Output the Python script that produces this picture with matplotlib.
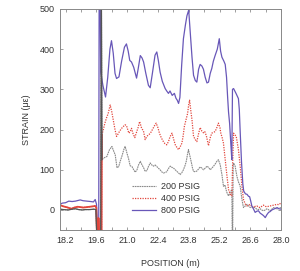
import matplotlib
matplotlib.use("Agg")
import matplotlib.pyplot as plt
import numpy as np
from matplotlib.ticker import MultipleLocator

plt.rcParams['font.family'] = ['Liberation Sans', 'DejaVu Sans']

# 200 PSIG
x200 = [17.95, 18.1, 18.32, 18.5, 18.65, 18.8, 18.96, 19.1, 19.3, 19.5, 19.58, 19.62, 19.80, 19.83, 19.86,
        19.93, 20.0, 20.08, 20.2, 20.31, 20.4, 20.46, 20.54, 20.62, 20.68, 20.76, 20.85, 20.91, 21.0, 21.06,
        21.14, 21.22, 21.3, 21.37, 21.45, 21.52, 21.6, 21.67, 21.75, 21.82, 21.9, 21.97, 22.05, 22.12, 22.2,
        22.27, 22.35, 22.42, 22.5, 22.57, 22.65, 22.72, 22.8, 22.88, 22.96, 23.04, 23.11, 23.19, 23.26, 23.34,
        23.41, 23.49, 23.56, 23.63, 23.69, 23.75, 23.79, 23.85, 23.91, 23.97, 24.02, 24.1, 24.17, 24.25, 24.32,
        24.4, 24.47, 24.55, 24.63, 24.7, 24.78, 24.85, 24.93, 25.0, 25.08, 25.15, 25.23, 25.31, 25.38, 25.45,
        25.5, 25.54, 25.61, 25.7, 25.76, 25.78, 25.8, 25.82, 25.84, 25.91, 25.99, 26.06, 26.14, 26.22, 26.29,
        26.37, 26.45, 26.52, 26.6, 26.68, 26.75, 26.82, 26.9, 26.97, 27.05, 27.12, 27.2, 27.28, 27.35, 27.42,
        27.5, 27.58, 27.66, 27.74, 27.82, 27.9, 28.0]
y200 = [2, 1, 0, 2, 3, 1, 0, 1, 1, 2, 1, -60, -60, 560, 125,
        129, 131, 133, 150, 158, 145, 137, 105, 108, 120, 133, 150, 158, 140, 129,
        110, 108, 100, 94, 100, 112, 121, 113, 105, 96, 98, 108, 117, 112, 109,
        112, 108, 104, 100, 95, 92, 93, 95, 103, 109, 106, 104, 100, 96, 92,
        88, 93, 100, 110, 121, 140, 150, 135, 121, 105, 96, 95, 97, 102, 107,
        104, 100, 104, 109, 106, 100, 104, 109, 114, 121, 125, 113, 88, 59, 62,
        50, 43, 35, 45, 51, -60, -60, 110, 117, 109, 84, 70, 59, 26, 6,
        10, 14, 10, 6, 7, 8, 5, 2, 1, 3, 0, -2, 0, 3, 1,
        -2, 2, 6, 4, 2, 4, 6]

# 400 PSIG
x400 = [17.95, 18.1, 18.25, 18.47, 18.6, 18.75, 18.9, 19.0, 19.15, 19.3, 19.45, 19.55, 19.6, 19.63, 19.69,
        19.7, 19.72, 19.84, 19.85, 19.92, 19.99, 20.07, 20.14, 20.23, 20.3, 20.37, 20.45, 20.52, 20.6, 20.65,
        20.75, 20.82, 20.9, 20.97, 21.08, 21.14, 21.2, 21.27, 21.35, 21.42, 21.5, 21.57, 21.65, 21.75, 21.82,
        21.9, 21.97, 22.05, 22.15, 22.25, 22.32, 22.4, 22.47, 22.55, 22.65, 22.72, 22.8, 22.88, 22.95, 23.04,
        23.12, 23.19, 23.27, 23.34, 23.42, 23.49, 23.55, 23.6, 23.68, 23.75, 23.8, 23.84, 23.9, 23.95, 24.02,
        24.1, 24.17, 24.25, 24.32, 24.4, 24.47, 24.53, 24.6, 24.7, 24.78, 24.85, 25.0, 25.08, 25.15, 25.22,
        25.26, 25.32, 25.38, 25.45, 25.54, 25.61, 25.69, 25.76, 25.8, 25.84, 25.96, 26.06, 26.14, 26.22, 26.29,
        26.37, 26.45, 26.52, 26.6, 26.68, 26.75, 26.82, 26.9, 26.97, 27.05, 27.12, 27.2, 27.28, 27.35, 27.42,
        27.5, 27.58, 27.66, 27.74, 27.82, 27.9, 28.0]
y400 = [12, 9, 7, 3, 6, 8, 7, 6, 7, 8, 9, 10, 6, -60, -60,
        -20, -60, -60, 186, 200, 216, 230, 240, 261, 245, 224, 200, 183, 190, 195,
        203, 207, 212, 210, 191, 195, 203, 190, 180, 192, 205, 220, 205, 195, 175,
        183, 187, 190, 200, 210, 216, 205, 191, 180, 170, 165, 162, 170, 182, 191,
        175, 162, 155, 150, 158, 166, 185, 207, 225, 240, 262, 273, 245, 224, 183,
        175, 170, 190, 205, 196, 192, 195, 185, 160, 180, 191, 195, 205, 216, 205,
        191, 180, 166, 130, 84, 51, 39, 35, 120, 191, 183, 150, 109, 59, 26,
        15, 10, 12, 14, 8, 6, 9, 10, 7, 6, 9, 12, 9, 8, 9,
        10, 11, 12, 13, 14, 13, 18]

# 800 PSIG
x800 = [17.95, 18.05, 18.2, 18.35, 18.5, 18.65, 18.87, 19.0, 19.17, 19.35, 19.47, 19.55, 19.61, 19.66, 19.71,
        19.73, 19.77, 19.80, 19.9, 20.02, 20.12, 20.22, 20.29, 20.37, 20.45, 20.52, 20.63, 20.75, 20.88, 20.97,
        21.05, 21.12, 21.2, 21.3, 21.43, 21.5, 21.6, 21.68, 21.75, 21.85, 21.97, 22.05, 22.15, 22.27, 22.35,
        22.42, 22.5, 22.6, 22.73, 22.8, 22.88, 22.95, 23.05, 23.15, 23.22, 23.28, 23.34, 23.4, 23.48, 23.56,
        23.65, 23.72, 23.8, 23.87, 23.95, 24.02, 24.1, 24.17, 24.25, 24.32, 24.4, 24.47, 24.55, 24.63, 24.7,
        24.78, 24.85, 24.92, 25.0, 25.1, 25.19, 25.25, 25.31, 25.4, 25.46, 25.52, 25.57, 25.61, 25.66, 25.72,
        25.76, 25.79, 25.84, 25.95, 26.06, 26.1, 26.14, 26.2, 26.26, 26.3, 26.38, 26.45, 26.52, 26.57, 26.62,
        26.67, 26.75, 26.82, 26.9, 26.97, 27.05, 27.13, 27.2, 27.28, 27.35, 27.43, 27.5, 27.58, 27.66, 27.74,
        27.82, 27.9, 28.0]
y800 = [14, 17, 18, 22, 21, 22, 25, 23, 22, 21, 20, 26, 14, -60, -60,
        560, 560, 343, 310, 281, 330, 400, 421, 390, 340, 327, 331, 370, 405, 413,
        395, 372, 368, 355, 328, 350, 384, 378, 368, 340, 310, 304, 340, 385, 393,
        372, 343, 320, 302, 296, 290, 296, 285, 290, 278, 273, 265, 280, 360, 426,
        460, 483, 497, 442, 380, 335, 322, 318, 350, 362, 358, 350, 330, 316, 318,
        340, 352, 370, 384, 400, 426, 395, 380, 370, 362, 330, 280, 244, 215, 160,
        125, 300, 302, 290, 277, 250, 195, 120, 65, 47, 40, 39, 34, 33, 22,
        10, 2, -6, -3, -2, -8, -11, -14, -19, -12, -6, -4, 0, 2, 4,
        6, 3, 2]

labels = ['200 PSIG', '400 PSIG', '800 PSIG']
xticks = [18.2, 19.6, 21.0, 22.4, 23.8, 25.2, 26.6, 28.0]

fig = plt.figure(figsize=(3.0, 2.71), dpi=100)
ax = fig.add_axes([0.2, 0.151, 0.737, 0.816])

gray = '#8a8a8a'
red = '#e2463c'
purple = '#6857b8'

ax.plot(x200, y200, color=gray, lw=0.8, ls=(0, (1.5, 0.6)), label=labels[0])
ax.plot(x400, y400, color=red, lw=0.9, ls=(0, (1, 1)), label=labels[1])
ax.plot(x800, y800, color=purple, lw=0.9, label=labels[2])
# dense section before the weld reads as solid
ax.plot(x400[:19], y400[:19], color=red, lw=1.3)
ax.plot(x200[:15], y200[:15], color='#555555', lw=0.9)

ax.set_xlim(17.95, 28.0)
ax.set_ylim(-50, 500)
ax.set_xticks(xticks)
ax.set_xticklabels(['%.1f' % t for t in xticks])
ax.xaxis.set_minor_locator(MultipleLocator(0.7))
ax.set_yticks([0, 100, 200, 300, 400, 500])
ax.tick_params(which='both', direction='in', top=True, right=True, length=2.5,
               width=0.5, color='#777777', labelsize=6.5, labelcolor='#333333', pad=4)
for s in ax.spines.values():
    s.set_color('#888888')
    s.set_linewidth(0.7)

ax.set_xlabel('POSITION (m)', fontsize=6.5, color='#333333', labelpad=10)
ax.set_ylabel('STRAIN (\u03bc\u03b5)', fontsize=6.5, color='#333333', labelpad=6)

ax.legend(loc='lower left', bbox_to_anchor=(0.29, 0.03), frameon=False, fontsize=6.5,
          handlelength=2.6, handletextpad=0.6, labelspacing=0.35, labelcolor='#333333')

fig.savefig('out.png', dpi=100)
